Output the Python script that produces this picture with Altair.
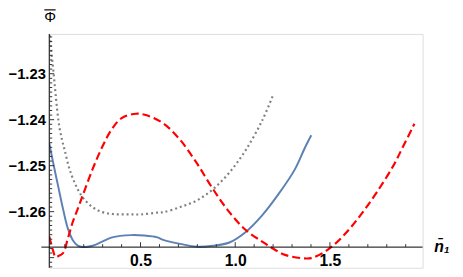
import altair as alt
import pandas as pd

# ---- data ----
blue_x = [0.0182, 0.0389, 0.0648, 0.0908, 0.1167, 0.1426, 0.1686, 0.1945, 0.2464, 0.2982,
          0.3501, 0.4502, 0.5197, 0.5887, 0.6234, 0.7095, 0.7962, 0.8828, 0.9689, 1.0555,
          1.1421, 1.2282, 1.3148, 1.3667, 1.4015]
blue_y = [-1.2451, -1.2494, -1.2544, -1.2594, -1.2637, -1.2662, -1.2674, -1.2677, -1.2674, -1.2665,
          -1.2656, -1.2651, -1.2652, -1.2656, -1.2662, -1.2670, -1.2676, -1.2674, -1.2667, -1.2644,
          -1.2608, -1.2562, -1.2508, -1.2462, -1.2434]

gray_x = [0.0182, 0.0249, 0.0337, 0.0425, 0.0508, 0.0596, 0.0700, 0.0856, 0.0996, 0.1255,
          0.1598, 0.1945, 0.2464, 0.2982, 0.3501, 0.3983, 0.4500, 0.5021, 0.5887, 0.6234,
          0.7095, 0.7962, 0.8828, 0.9689, 1.0555, 1.1421, 1.2023]
gray_y = [-1.2206, -1.2234, -1.2270, -1.2305, -1.2341, -1.2377, -1.2412, -1.2444, -1.2466, -1.2508,
          -1.2544, -1.2569, -1.2590, -1.2601, -1.2605, -1.2606, -1.2606, -1.2606, -1.2602, -1.2601,
          -1.2590, -1.2576, -1.2551, -1.2515, -1.2466, -1.2402, -1.2344]

red_x = [0.0182, 0.0389, 0.0519, 0.0648, 0.0908, 0.1167, 0.1426, 0.1686, 0.1945, 0.2464,
         0.2982, 0.3449, 0.3983, 0.4761, 0.5368, 0.6234, 0.7095, 0.7962, 0.8828, 0.9689,
         1.0555, 1.1421, 1.1940, 1.2630, 1.3496, 1.4015, 1.4876, 1.5742, 1.6608, 1.7469,
         1.8335, 1.8854, 1.9461]
red_y = [-1.2654, -1.2686, -1.2699, -1.2697, -1.2690, -1.2658, -1.2622, -1.2594, -1.2565, -1.2508,
         -1.2459, -1.2423, -1.2397, -1.2387, -1.2391, -1.2409, -1.2444, -1.2494, -1.2551, -1.2601,
         -1.2640, -1.2665, -1.2679, -1.2694, -1.2701, -1.2701, -1.2683, -1.2651, -1.2608, -1.2558,
         -1.2501, -1.2459, -1.2409]

x_major = [0.5, 1.0, 1.5]
x_minor = [0.1, 0.2, 0.3, 0.4, 0.6, 0.7, 0.8, 0.9, 1.1, 1.2, 1.3, 1.4, 1.6, 1.7, 1.8, 1.9]
y_major = [-1.27, -1.26, -1.25, -1.24, -1.23]
y_labels = [-1.26, -1.25, -1.24, -1.23]
y_minor = [round(-1.272 + 0.001 * i, 3) for i in range(51)]
y_minor = [v for v in y_minor if all(abs(v - m) > 1e-9 for m in y_major)]

X0, X1 = 0.01815, 1.98911
Y0, Y1 = -1.27220, -1.22135
AXIS_Y = -1.26771

W, H = 380, 238
PX_X = (X1 - X0) / W   # data units per pixel, x
PX_Y = (Y1 - Y0) / H   # data units per pixel, y
FONT = "Liberation Sans"

xs = alt.Scale(domain=[X0, X1], nice=False, zero=False)
ys = alt.Scale(domain=[Y0, Y1], nice=False, zero=False)

def line_df(xv, yv):
    return pd.DataFrame({"x": xv, "y": yv})

base_x = alt.X("x:Q", scale=xs,
               axis=alt.Axis(values=x_major, format=".1f", tickSize=0, offset=-21,
                             labelPadding=6, labelFont=FONT, labelFontSize=16,
                             labelFontWeight=700, labelColor="black",
                             domain=False, grid=False, title=None, labelFlush=False))
base_y = alt.Y("y:Q", scale=ys,
               axis=alt.Axis(values=y_labels, tickSize=0,
                             labelExpr="'\u2212' + format(abs(datum.value), '.2f')",
                             labelPadding=4, labelFont=FONT, labelFontSize=15,
                             labelFontWeight=700, labelColor="black",
                             domain=False, grid=False, title=None, labelFlush=False))

blue = alt.Chart(line_df(blue_x, blue_y)).mark_line(
    color="#5E81B5", strokeWidth=2, interpolate="catmull-rom", clip=True
).encode(x=base_x, y=base_y)

gray = alt.Chart(line_df(gray_x, gray_y)).mark_line(
    color="#808080", strokeWidth=2.2, strokeDash=[2, 3], interpolate="catmull-rom", clip=True
).encode(x=alt.X("x:Q", scale=xs), y=alt.Y("y:Q", scale=ys))

red = alt.Chart(line_df(red_x, red_y)).mark_line(
    color="#FF0000", strokeWidth=2.2, strokeDash=[8, 4], interpolate="catmull-rom", clip=True
).encode(x=alt.X("x:Q", scale=xs), y=alt.Y("y:Q", scale=ys))

# axis lines
x_axis_line = alt.Chart(pd.DataFrame({"a": [X0 - 8 * PX_X], "b": [X1]})).mark_rule(
    color="black", strokeWidth=1
).encode(x=alt.X("a:Q", scale=xs), x2="b:Q", y=alt.datum(AXIS_Y))
y_axis_line = alt.Chart(pd.DataFrame({"a": [Y0], "b": [Y1]})).mark_rule(
    color="black", strokeWidth=1
).encode(y=alt.Y("a:Q", scale=ys), y2="b:Q", x=alt.datum(X0))

# ticks (pointing inward, as in the reference)
def xticks(vals, length):
    df = pd.DataFrame({"v": vals, "y1": [AXIS_Y] * len(vals),
                       "y2": [AXIS_Y + length * PX_Y] * len(vals)})
    return alt.Chart(df).mark_rule(color="#333333", strokeWidth=1).encode(
        x=alt.X("v:Q", scale=xs), y=alt.Y("y1:Q", scale=ys), y2="y2:Q")

def yticks(vals, length):
    df = pd.DataFrame({"v": vals, "x1": [X0] * len(vals),
                       "x2": [X0 + length * PX_X] * len(vals)})
    return alt.Chart(df).mark_rule(color="#333333", strokeWidth=1).encode(
        y=alt.Y("v:Q", scale=ys), x=alt.X("x1:Q", scale=xs), x2="x2:Q")

# y-axis title: Φ with an overbar
ytitle = alt.Chart(pd.DataFrame({"t": ["Φ"]})).mark_text(
    font=FONT, fontSize=15, color="black", align="center", baseline="middle", dy=-17
).encode(x=alt.datum(X0 + 0.8 * PX_X), y=alt.datum(Y1), text="t:N")
ybar = alt.Chart(pd.DataFrame({"a": [X0 - 5 * PX_X], "b": [X0 + 6.5 * PX_X],
                               "y": [Y1 + 24.5 * PX_Y]})).mark_rule(
    color="black", strokeWidth=1.2
).encode(x=alt.X("a:Q", scale=xs), x2="b:Q", y=alt.Y("y:Q", scale=ys))

xtitle = alt.Chart(pd.DataFrame({"t": ["n\u0304\u2081"]})).mark_text(
    font=FONT, fontSize=16, fontWeight="bold", fontStyle="italic", color="black",
    align="left", baseline="middle", dx=12
).encode(x=alt.datum(X1), y=alt.datum(AXIS_Y), text="t:N")

chart = alt.layer(
    blue, gray, red, x_axis_line, y_axis_line,
    xticks(x_major, 5), xticks(x_minor, 3), yticks(y_major, 5), yticks(y_minor, 3),
    ytitle, ybar, xtitle
).properties(
    width=W, height=H,
    autosize=alt.AutoSizeParams(type="none"),
    padding={"left": 42, "top": 24, "right": 33, "bottom": 7},
).configure_view(stroke=None).configure(background="white")

chart.save("out.html", embed_options={"renderer": "svg", "actions": False})
